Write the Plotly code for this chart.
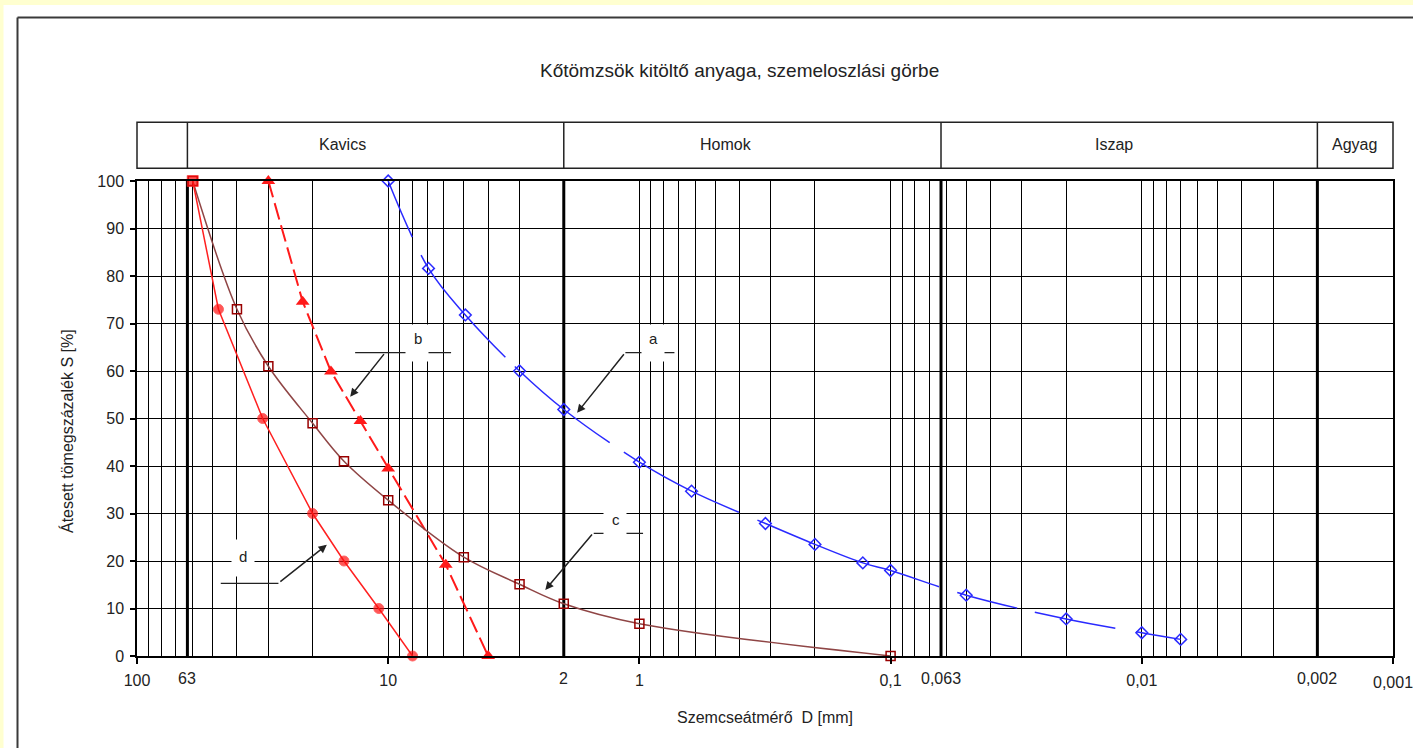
import math
import plotly.graph_objects as go

# ---------------- data ----------------
a_D = [10, 6.91, 4.93, 3.0, 2.0, 1.0, 0.62, 0.315, 0.2, 0.129, 0.1, 0.05, 0.02, 0.01, 0.007]
a_S = [100, 81.6, 71.8, 60, 51.9, 40.8, 34.7, 27.9, 23.5, 19.6, 18.0, 12.8, 7.8, 4.9, 3.5]

b_D = [30, 21.9, 16.9, 12.9, 10, 5.9, 4.0]
b_S = [100, 74.6, 59.9, 49.5, 39.5, 19.2, 0]

c_D = [60, 40, 30, 20, 15, 10, 5, 3, 2, 1, 0.1]
c_S = [100, 73, 61, 49, 41, 32.8, 20.8, 15.1, 11, 6.8, 0]

d_D = [60, 47.4, 31.6, 20, 15, 10.9, 8]
d_S = [100, 73, 50, 30, 20, 10, 0]

# axis ticks
x_major = [100, 10, 1, 0.1, 0.01, 0.001]
x_major_text = ["100", "10", "1", "0,1", "0,01", ""]
x_extra = [63, 2, 0.063, 0.002, 0.001]
x_extra_text = ["63", "2", "0,063", "0,002", "0,001"]
x_extra_ypx = [678.5, 678.5, 678.5, 678.5, 682.5]
x_thick = [63, 2, 0.063, 0.002]
x_minor = [m * 10 ** e for e in (-3, -2, -1, 0, 1) for m in range(2, 10)]
y_ticks = list(range(0, 101, 10))

# soil fraction header
zone_names = ["Kavics", "Homok", "Iszap", "Agyag"]
zone_label_D = [15.2, 0.454, 0.0129, 0.00142]
zone_bounds = [100, 63, 2, 0.063, 0.002, 0.001]

# curve labels: white box centre (D, S) and letter position (D, S)
lab_text = ["a", "b", "c", "d"]
box_D = [0.88, 7.66, 1.246, 38.0]
box_S = [65.8, 65.8, 28.0, 20.6]
let_D = [0.8795, 7.64, 1.235, 37.7]
let_S = [66.9, 66.9, 28.8, 20.9]
# leader lines
lead_D0 = [1.137, 13.54, 1.52, 46.4]
lead_D1 = [0.7254, 5.62, 0.967, 27.35]
lead_S = [63.85, 63.85, 25.83, 15.3]
# arrow tips (D, S) and tail offsets in px
tip_D = [1.77, 14.17, 2.37, 17.55]
tip_S = [51.2, 54.6, 13.9, 23.4]
tail_dx = [48, 35, 48, -48]
tail_dy = [-60, -44, -57, 38]

FONT = "Liberation Sans, Arial, sans-serif"
TXT = "#222222"

# ---------------- figure ----------------
L, R, T, B = 137, 20, 181, 92
W, H = 1413, 748
PW, PH = W - L - R, H - T - B

XMAX, XMIN = math.log10(100), math.log10(0.001)


def xpaper(v):
    return (XMAX - math.log10(v)) / (XMAX - XMIN)


def px2paper_x(px):
    return (px - L) / PW


def py2paper_y(py):
    return 1 - (py - T) / PH


fig = go.Figure()

# thick boundary lines
for v in x_thick:
    fig.add_trace(go.Scatter(x=[v, v], y=[0, 100], mode="lines",
                             line=dict(color="black", width=3),
                             hoverinfo="skip", showlegend=False))

# leader lines
for i in range(4):
    fig.add_trace(go.Scatter(x=[lead_D0[i], lead_D1[i]], y=[lead_S[i], lead_S[i]],
                             mode="lines", line=dict(color=TXT, width=1.3),
                             hoverinfo="skip", showlegend=False))

# curve a (long broken line as in the scanned original)
a_dash = "61px,20px,133px,13px,122px,17px,130px,20px,194px,19px,62px,18px,82px,21px,400px"
fig.add_trace(go.Scatter(x=a_D, y=a_S, mode="lines", name="a",
                         line=dict(color="#2a2aff", width=1.5, shape="spline", dash=a_dash),
                         hoverinfo="skip", showlegend=False))
fig.add_trace(go.Scatter(x=a_D, y=a_S, mode="markers", name="a",
                         marker=dict(symbol="diamond-open", size=9, color="#2a2aff",
                                     line=dict(width=1.5)),
                         cliponaxis=False, showlegend=False))
# curve b
fig.add_trace(go.Scatter(x=b_D, y=b_S, mode="lines+markers", name="b",
                         line=dict(color="#ff1a1a", width=2, dash="17px,6px"),
                         marker=dict(symbol="triangle-up", size=12, color="#ff1a1a"),
                         cliponaxis=False, showlegend=False))
# curve c
fig.add_trace(go.Scatter(x=c_D, y=c_S, mode="lines+markers", name="c",
                         line=dict(color="#8f4545", width=1.5, shape="spline"),
                         marker=dict(symbol="square-open", size=9, color="#990000",
                                     line=dict(width=1.5)),
                         cliponaxis=False, showlegend=False))
# curve d
fig.add_trace(go.Scatter(x=d_D, y=d_S, mode="lines+markers", name="d",
                         line=dict(color="#ff2020", width=1.5),
                         marker=dict(symbol=["square"] + ["circle"] * (len(d_D) - 1),
                                     size=[11] + [10] * (len(d_D) - 1), color="#ff1010"),
                         cliponaxis=False, showlegend=False))

shapes = []
# outer decoration: yellow strips and frame
shapes.append(dict(type="rect", xref="paper", yref="paper", layer="below",
                   x0=-0.2, x1=px2paper_x(3.5), y0=-0.3, y1=1.5,
                   fillcolor="#FFFFD0", line=dict(width=0)))
shapes.append(dict(type="rect", xref="paper", yref="paper", layer="below",
                   x0=-0.2, x1=1.2, y0=py2paper_y(5), y1=1.5,
                   fillcolor="#FFFFD0", line=dict(width=0)))
shapes.append(dict(type="line", xref="paper", yref="paper",
                   x0=px2paper_x(17.5), x1=px2paper_x(17.5), y0=-0.3, y1=py2paper_y(17.5),
                   line=dict(color="#3a3a3a", width=2)))
shapes.append(dict(type="line", xref="paper", yref="paper",
                   x0=px2paper_x(17.5), x1=1.2, y0=py2paper_y(17.5), y1=py2paper_y(17.5),
                   line=dict(color="#3a3a3a", width=2)))

# header box
hy0, hy1 = py2paper_y(168.3), py2paper_y(122.3)
shapes.append(dict(type="rect", xref="paper", yref="paper", x0=0, x1=1, y0=hy0, y1=hy1,
                   line=dict(color="#222", width=1.5)))
for v in zone_bounds[1:-1]:
    shapes.append(dict(type="line", xref="paper", yref="paper",
                       x0=xpaper(v), x1=xpaper(v), y0=hy0, y1=hy1,
                       line=dict(color="#222", width=1.5)))

annotations = []


def label(text, x, y, size=16, **kw):
    d = dict(text=text, xref="paper", yref="paper", x=x, y=y, showarrow=False,
             xanchor="center", yanchor="middle",
             font=dict(size=size, color=TXT, family=FONT))
    d.update(kw)
    annotations.append(d)


# title
label("Kőtömzsök kitöltő anyaga, szemeloszlási görbe", px2paper_x(739), py2paper_y(70), 19)
# header labels
for name, v in zip(zone_names, zone_label_D):
    label(name, xpaper(v), py2paper_y(145))
# extra x labels
for v, t, yp in zip(x_extra, x_extra_text, x_extra_ypx):
    label(t, xpaper(v), py2paper_y(yp))
# axis titles
label("Szemcseátmérő  D [mm]", 0.5, py2paper_y(717))
label("Átesett tömegszázalék S [%]", px2paper_x(67), py2paper_y(431), textangle=-90)

# curve labels: white boxes then letters
for i in range(4):
    annotations.append(dict(text="", x=math.log10(box_D[i]), y=box_S[i], xref="x", yref="y",
                            showarrow=False, width=22, height=36, bgcolor="white",
                            borderpad=0, xanchor="center", yanchor="middle"))
for i in range(4):
    annotations.append(dict(text=lab_text[i], x=math.log10(let_D[i]), y=let_S[i],
                            xref="x", yref="y", showarrow=False,
                            xanchor="center", yanchor="middle",
                            font=dict(size=15, color=TXT, family=FONT)))
# arrows
for i in range(4):
    annotations.append(dict(text="", x=math.log10(tip_D[i]), y=tip_S[i], xref="x", yref="y",
                            ax=tail_dx[i], ay=tail_dy[i], showarrow=True,
                            arrowhead=2, arrowsize=1.1, arrowwidth=1.5,
                            arrowcolor=TXT, standoff=0))

fig.update_layout(
    width=W, height=H,
    margin=dict(l=L, r=R, t=T, b=B, pad=0),
    paper_bgcolor="white", plot_bgcolor="white",
    font=dict(family=FONT, color=TXT, size=16),
    shapes=shapes, annotations=annotations,
    xaxis=dict(type="log", range=[XMAX, XMIN], tickvals=x_major, ticktext=x_major_text,
               ticks="outside", ticklen=6, tickcolor="black", tickwidth=1.5,
               showgrid=True, gridcolor="black", gridwidth=1.3,
               minor=dict(tickvals=x_minor, showgrid=True, gridcolor="black",
                          gridwidth=1.3, ticks=""),
               showline=True, mirror=True, linecolor="black", linewidth=1.5,
               zeroline=False, tickfont=dict(size=16, color=TXT), ticklabelstandoff=3),
    yaxis=dict(range=[0, 100], tickvals=y_ticks, ticks="outside", ticklen=5,
               tickcolor="black", tickwidth=1.5,
               showgrid=True, gridcolor="black", gridwidth=1.3,
               showline=True, mirror=True, linecolor="black", linewidth=1.5,
               zeroline=False, tickfont=dict(size=16, color=TXT), ticklabelstandoff=3),
)

fig.write_html("out.html", config={"displayModeBar": False},
               post_script="document.body.style.margin='0';document.body.style.overflow='hidden';")
